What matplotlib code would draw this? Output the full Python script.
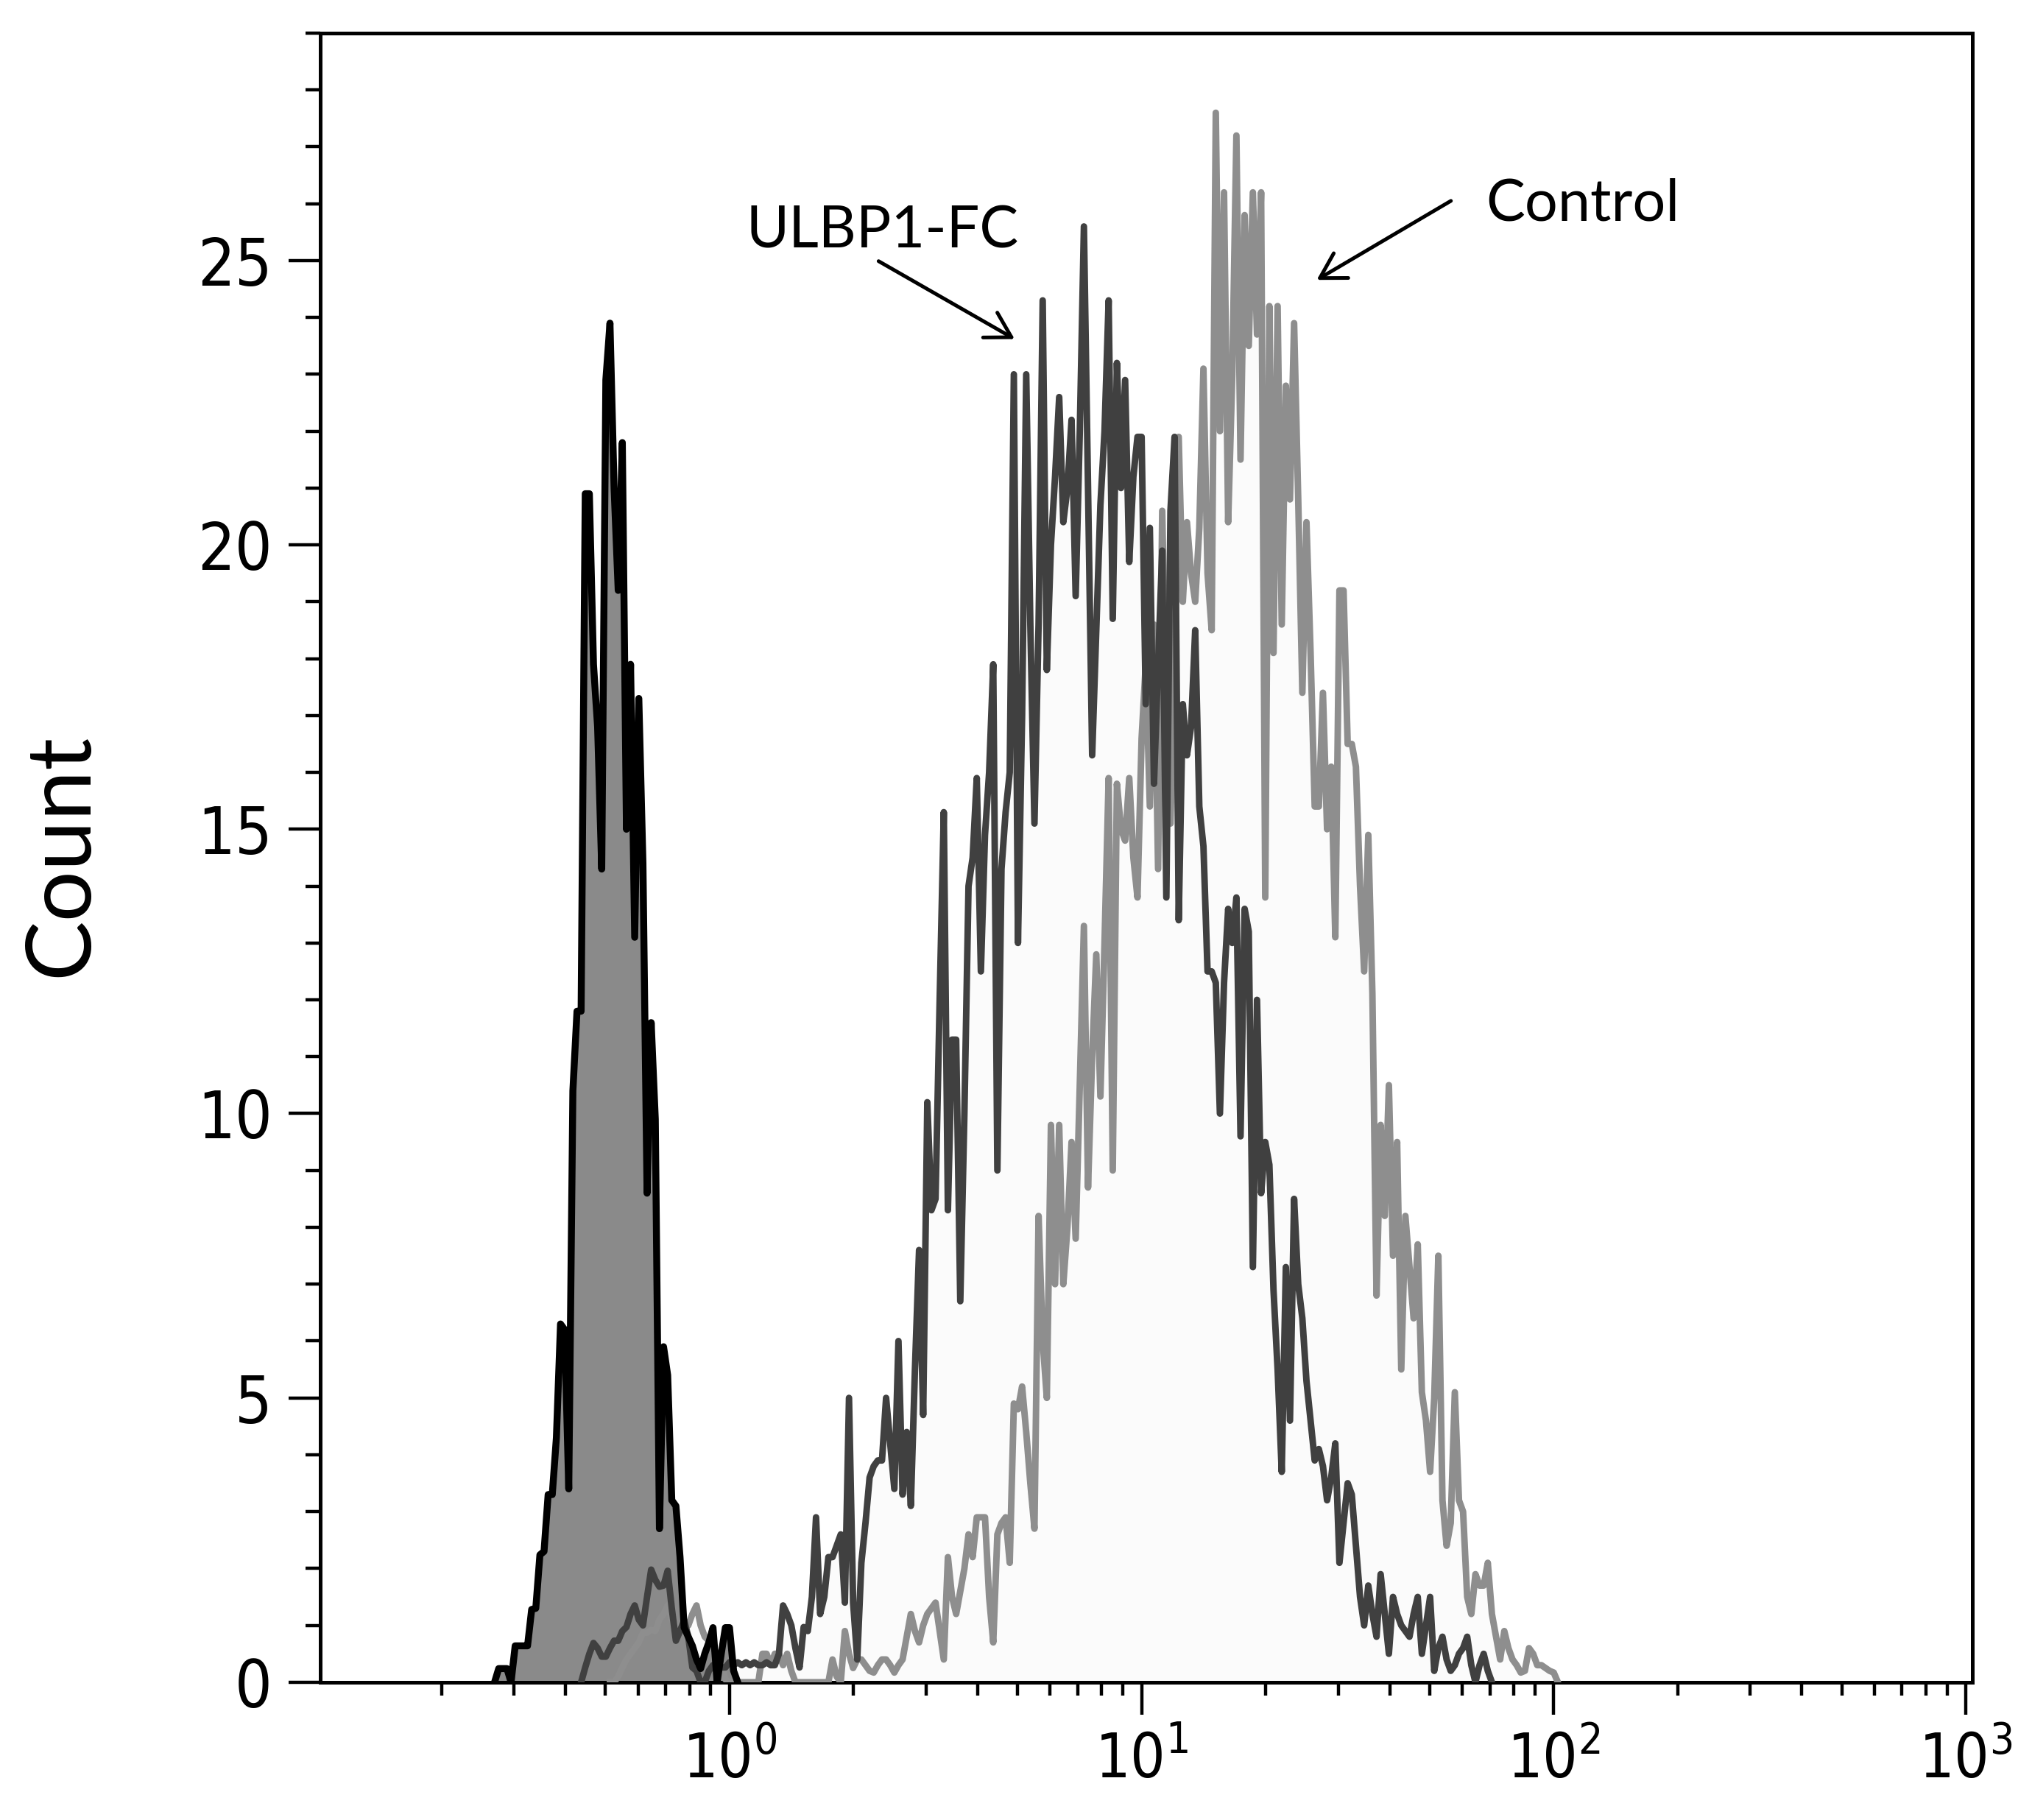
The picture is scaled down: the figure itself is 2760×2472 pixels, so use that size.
import numpy as np
import matplotlib
matplotlib.use('Agg')
import matplotlib.pyplot as plt
from matplotlib.ticker import FixedLocator, MultipleLocator
from matplotlib import font_manager as fm

# pick a narrow face for tick labels if one exists
cond_files = [f.fname for f in fm.fontManager.ttflist
              if f.name == 'DejaVu Sans' and f.stretch == 'condensed' and f.style == 'normal'
              and f.weight in (400, 'normal')]
if cond_files:
    tick_fp = fm.FontProperties(fname=cond_files[0])
else:
    tick_fp = fm.FontProperties(family='DejaVu Sans')
tick_family = tick_fp.get_name()
plt.rcParams['mathtext.fontset'] = 'custom'
plt.rcParams['mathtext.rm'] = tick_family + (':stretch=condensed' if cond_files else '')

# ---------------- data (log10 channel grid, 0.01 decade per bin) ----------------
bin_step = 0.01

iso_start = -0.57
iso_counts = [0, 0.24, 0.24, 0.24, 0.0, 0.64, 0.64, 0.64, 0.64, 1.28,
              1.3, 2.24, 2.3, 3.3, 3.3, 4.3, 6.3, 6.2, 3.4, 10.4,
              11.8, 11.8, 20.9, 20.9, 17.9, 16.8, 14.3, 22.9, 23.9, 21.0,
              19.2, 21.8, 15.0, 17.9, 13.1, 17.3, 14.4, 8.6, 11.6, 9.9,
              2.7, 5.9, 5.4, 3.2, 3.1, 2.2, 0.96, 0.8, 0.64, 0.4,
              0.24, 0.5, 0.7, 0.96, 0.0, 0.5, 0.96, 0.96, 0.2, 0]

ulbp_start = -0.36
ulbp_counts = [0, 0.26, 0.5, 0.69, 0.6, 0.45, 0.45, 0.6, 0.73, 0.73,
               0.9, 0.97, 1.2, 1.35, 1.1, 1.0, 1.5, 1.98, 1.8, 1.68,
               1.7, 1.96, 1.3, 0.73, 0.9, 1.09, 0.8, 0.26, 0.2, 0,
               0, 0.2, 0.3, 0.3, 0.26, 0.26, 0.35, 0.3, 0.35, 0.3,
               0.35, 0.3, 0.35, 0.3, 0.3, 0.35, 0.3, 0.3, 0.5, 1.35,
               1.2, 1.0, 0.6, 0.26, 0.97, 0.9, 1.5, 2.9, 1.2, 1.5,
               2.2, 2.2, 2.4, 2.6, 1.4, 5.0, 1.4, 0.4, 2.1, 2.8,
               3.6, 3.8, 3.9, 3.9, 5.0, 4.2, 3.4, 6.0, 3.3, 4.4,
               3.1, 5.5, 7.6, 4.7, 10.2, 8.3, 8.5, 12.0, 15.3, 8.3,
               11.3, 11.3, 6.7, 10.0, 14.0, 14.5, 15.9, 12.5, 14.9, 16.0,
               17.9, 9.0, 14.3, 15.3, 16.0, 23.0, 13.0, 17.0, 23.0, 18.6,
               15.1, 18.6, 24.3, 17.8, 20.0, 21.2, 22.6, 20.4, 21.0, 22.2,
               19.1, 22.0, 25.6, 21.0, 16.3, 18.5, 20.7, 22.0, 24.3, 18.7,
               23.2, 21.0, 22.9, 19.7, 21.2, 21.9, 21.9, 17.2, 20.3, 15.8,
               17.9, 19.9, 13.8, 20.6, 21.9, 13.4, 17.2, 16.3, 16.8, 18.5,
               15.4, 14.7, 12.5, 12.5, 12.3, 10.0, 12.3, 13.6, 13.0, 13.8,
               9.6, 13.6, 13.2, 7.3, 12.0, 8.6, 9.5, 9.1, 6.9, 5.5,
               3.7, 7.3, 4.6, 8.5, 7.0, 6.4, 5.3, 4.6, 3.9, 4.1,
               3.8, 3.2, 3.6, 4.2, 2.1, 2.8, 3.5, 3.3, 2.4, 1.5,
               1.0, 1.7, 1.2, 0.8, 1.9, 1.2, 0.5, 1.5, 1.2, 1.0,
               0.9, 0.8, 1.2, 1.5, 0.5, 1.0, 1.5, 0.2, 0.6, 0.8,
               0.4, 0.2, 0.3, 0.5, 0.6, 0.8, 0.3, 0, 0.3, 0.5, 0.2, 0]

ctrl_start = -0.29
ctrl_counts = [0, 0, 0.1, 0.26, 0.4, 0.5, 0.6, 0.7, 0.87, 0.87,
               0.92, 0.9, 1.1, 1.2, 1.35, 1.1, 0.97, 1.0, 1.06, 1.0,
               1.2, 1.35, 1.0, 0.8, 0.73, 0.6, 0.5, 0.3, 0.05, 0,
               0, 0, 0, 0, 0, 0, 0, 0.5, 0.5, 0.3,
               0.5, 0.5, 0.3, 0.5, 0.2, 0, 0, 0, 0, 0,
               0, 0, 0, 0, 0.4, 0.1, 0, 0.9, 0.5, 0.25,
               0.4, 0.4, 0.3, 0.2, 0.17, 0.3, 0.4, 0.4, 0.3, 0.17,
               0.3, 0.4, 0.8, 1.2, 0.9, 0.7, 1.0, 1.2, 1.3, 1.4,
               0.9, 0.4, 2.2, 1.5, 1.2, 1.6, 2.0, 2.6, 2.2, 2.9,
               2.9, 2.9, 1.5, 0.7, 2.6, 2.8, 2.9, 2.1, 4.9, 4.8,
               5.2, 4.4, 3.5, 2.7, 8.2, 6.0, 5.0, 9.8, 7.0, 9.8,
               7.0, 8.0, 9.5, 7.8, 10.5, 13.3, 8.7, 11.0, 12.8, 10.3,
               13.0, 15.9, 9.0, 15.8, 15.0, 14.8, 15.9, 14.5, 13.8, 16.6,
               17.9, 15.4, 18.6, 14.3, 20.6, 16.8, 15.1, 17.9, 21.9, 19.0,
               20.4, 19.5, 19.0, 20.3, 23.1, 19.5, 18.5, 27.6, 22.0, 26.2,
               20.4, 23.0, 27.2, 21.5, 25.8, 23.5, 26.2, 23.7, 26.2, 13.8,
               24.2, 18.1, 24.2, 18.6, 22.8, 20.8, 23.9, 20.8, 17.4, 20.4,
               18.1, 15.4, 15.4, 17.4, 15.0, 16.1, 13.1, 19.2, 19.2, 16.5,
               16.5, 16.1, 14.0, 12.5, 14.9, 12.1, 6.8, 9.8, 8.2, 10.5,
               7.5, 9.5, 5.5, 8.2, 7.3, 6.4, 7.7, 5.1, 4.6, 3.7,
               5.0, 7.5, 3.2, 2.4, 2.8, 5.1, 3.2, 3.0, 1.5, 1.2,
               1.9, 1.7, 1.7, 2.1, 1.2, 0.8, 0.4, 0.9, 0.6, 0.4,
               0.3, 0.17, 0.2, 0.6, 0.5, 0.3, 0.3, 0.25, 0.2, 0.17, 0]

xtick_values = [1, 10, 100, 1000]
xtick_labels = [r'$10^{0}$', r'$10^{1}$', r'$10^{2}$', r'$10^{3}$']
ytick_values = [0, 5, 10, 15, 20, 25]
ytick_labels = ['0', '5', '10', '15', '20', '25']


def channels(start, counts):
    return 10 ** (start + bin_step * np.arange(len(counts)))


x_iso = channels(iso_start, iso_counts)
x_ulbp = channels(ulbp_start, ulbp_counts)
x_ctrl = channels(ctrl_start, ctrl_counts)

# ---------------- figure ----------------
fig = plt.figure(figsize=(13.8, 12.36), dpi=200)
ax = fig.add_axes([0.1576, 0.0757, 0.8131, 0.9061])
ax.set_xscale('log')

ax.fill_between(x_ctrl, ctrl_counts, color='#fbfbfb', lw=0, zorder=1)
ax.fill_between(x_ulbp, ulbp_counts, color='#fbfbfb', lw=0, zorder=1)
ax.fill_between(x_iso, iso_counts, color='#8a8a8a', lw=0, zorder=2)
ax.plot(x_ctrl, ctrl_counts, color='#8e8e8e', lw=3.2, zorder=3)
ax.plot(x_ulbp, ulbp_counts, color='#404040', lw=3.2, zorder=4)
ax.plot(x_iso, iso_counts, color='black', lw=3.4, zorder=5)

ax.set_xlim(10 ** -0.993, 10 ** 3.016)
ax.set_ylim(0, 29)

for s in ax.spines.values():
    s.set_linewidth(1.8)
    s.set_color('black')

ax.xaxis.set_major_locator(FixedLocator(xtick_values))
ax.xaxis.set_minor_locator(FixedLocator([m * 10.0 ** e for e in range(-1, 3) for m in range(2, 10)]))
ax.set_xticklabels(xtick_labels)
ax.yaxis.set_major_locator(FixedLocator(ytick_values))
ax.set_yticklabels(ytick_labels)
ax.yaxis.set_minor_locator(MultipleLocator(1))

ax.tick_params(axis='x', which='major', length=15.8, width=1.6, pad=8, labelsize=30)
ax.tick_params(axis='x', which='minor', length=6.5, width=1.6)
ax.tick_params(axis='y', which='major', length=15.5, width=1.6, pad=8, labelsize=32)
ax.tick_params(axis='y', which='minor', length=7.2, width=1.6)
for lab in ax.get_yticklabels():
    lab.set_fontproperties(tick_fp)
    lab.set_fontsize(32)

fig.text(0.0304, 0.530, 'Count', rotation=90, ha='center', va='center',
         fontsize=44, family=['Lato', 'DejaVu Sans'])

arrow_kw = dict(arrowstyle='->,head_length=0.6,head_width=0.35', lw=1.8,
                color='black', shrinkA=0, shrinkB=0, mutation_scale=20)
ax.annotate('', xy=(4.92, 23.62), xytext=(2.30, 24.99), arrowprops=arrow_kw, zorder=6)
ax.annotate('', xy=(26.6, 24.66), xytext=(56.3, 26.05), arrowprops=arrow_kw, zorder=6)
ax.text(2.35, 25.22, 'ULBP1-FC', ha='center', va='baseline', fontsize=28.5,
        family=['Lato', 'DejaVu Sans'], zorder=6)
ax.text(117.4, 25.70, 'Control', ha='center', va='baseline', fontsize=28.5,
        family=['Lato', 'DejaVu Sans'], zorder=6)

fig.savefig('out.png', dpi=200, facecolor='white')
